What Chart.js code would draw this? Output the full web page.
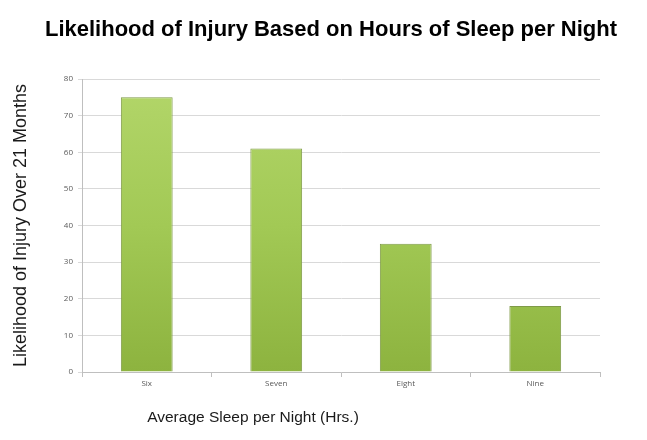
<!DOCTYPE html>
<html>
<head>
<style>
  body { margin: 0; background: #fff; }
  canvas { display: block; }
</style>
</head>
<body>
<canvas id="myChart" width="647" height="440"></canvas>
<script src="https://cdnjs.cloudflare.com/ajax/libs/Chart.js/4.4.0/chart.umd.min.js"></script>
<script>
  const categories = ["Six", "Seven", "Eight", "Nine"];
  const injuryValues = [75, 61, 35, 18];
  const yTicks = [0, 10, 20, 30, 40, 50, 60, 70, 80];
  const chartTitle = "Likelihood of Injury Based on Hours of Sleep per Night";
  const xTitle = "Average Sleep per Night (Hrs.)";
  const yTitle = "Likelihood of Injury Over 21 Months";

  // both titles are off the plot centre in the original, so draw them by hand
  const titlesPlugin = {
    id: "titles",
    afterDraw(chart) {
      const c = chart.ctx;
      c.save();
      c.fillStyle = "#000";
      c.textAlign = "center";
      c.textBaseline = "middle";
      c.font = "bold 22px Arial, 'Liberation Sans'";
      c.fillText(chartTitle, 331, 30);
      c.fillStyle = "#1a1a1a";
      c.font = "15.5px Arial, 'Liberation Sans'";
      c.fillText(xTitle, 253, 418);
      c.restore();
    },
  };

  function barFill(context) {
    const chart = context.chart;
    const area = chart.chartArea;
    if (!area) return "#9cc14c";
    const g = chart.ctx.createLinearGradient(0, area.top, 0, area.bottom);
    g.addColorStop(0, "#b3d66a");
    g.addColorStop(0.5, "#a2c955");
    g.addColorStop(1, "#8db33f");
    return g;
  }

  const ctx = document.getElementById("myChart").getContext("2d");
  const myChart = new Chart(ctx, {
    type: "bar",
    data: {
      labels: categories,
      datasets: [
        {
          data: injuryValues,
          backgroundColor: barFill,
          borderColor: "#7f9a48",
          borderWidth: 1,
          barPercentage: 0.4,
          categoryPercentage: 1,
        },
      ],
    },
    plugins: [titlesPlugin],
    options: {
      responsive: false,
      animation: false,
      layout: { padding: { left: 0, right: 47, top: 79, bottom: 0 } },
      plugins: {
        legend: { display: false },
        tooltip: { enabled: false },
        title: { display: false },
      },
      scales: {
        x: {
          afterFit: (s) => { s.height = 68; },
          grid: {
            offset: true,
            drawOnChartArea: false,
            color: "#bfbfbf",
            tickLength: 5,
          },
          border: { color: "#bfbfbf" },
          ticks: {
            color: "#595959",
            font: { family: "'Open Sans'", size: 8 },
            padding: 2,
          },
        },
        y: {
          min: 0,
          max: 80,
          afterFit: (s) => { s.width = 82; },
          afterBuildTicks: (s) => { s.ticks = yTicks.map((v) => ({ value: v })); },
          grid: { color: "#d9d9d9", tickLength: 4 },
          border: { color: "#bfbfbf" },
          ticks: {
            color: "#595959",
            font: { family: "'Open Sans'", size: 8 },
            padding: 5,
          },
          title: {
            display: true,
            text: yTitle,
            color: "#1a1a1a",
            font: { family: "Arial, 'Liberation Sans'", size: 18 },
            padding: { top: 10, bottom: 0 },
          },
        },
      },
    },
  });
</script>
</body>
</html>
